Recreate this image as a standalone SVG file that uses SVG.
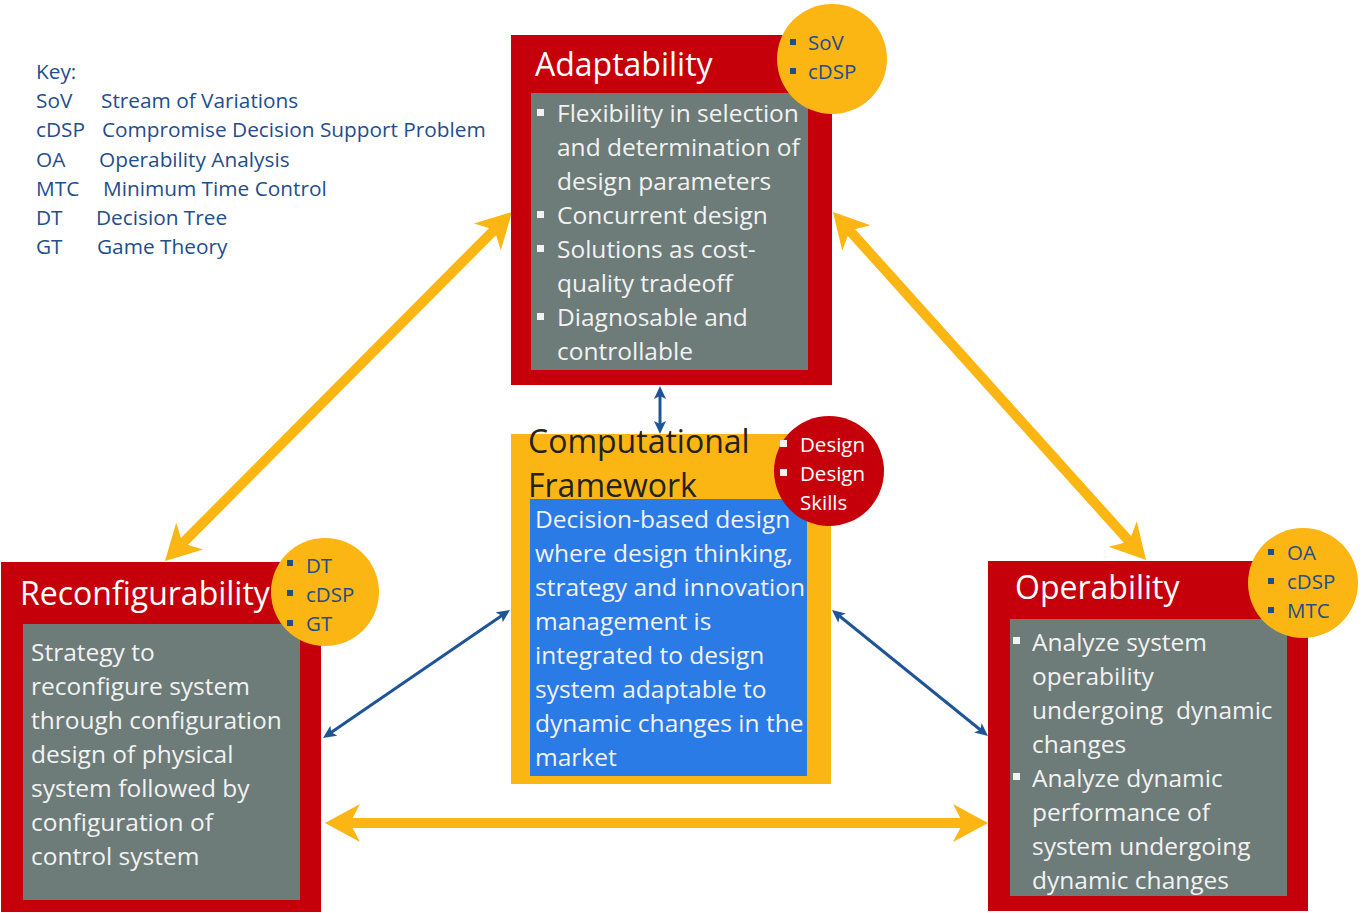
<svg xmlns="http://www.w3.org/2000/svg" width="1363" height="913" viewBox="0 0 1363 913">
<defs>
<style>
.red{fill:#C5000A}
.gray{fill:#6D7B79}
.yc{fill:#FBB614}
.t{font-family:"Open Sans","Noto Sans",sans-serif}
.title{font-size:32px;fill:#FFFFFF}
.body{font-size:24.5px;fill:#F2F2F2}
.key{font-size:20.8px;fill:#1F4E8C}
.ct{font-size:20.5px;fill:#1F4E8C}
.ctw{font-size:20.5px;fill:#FFFFFF}
.bd{fill:#1F4E8C}
.bw{fill:#F2F2F2}
.ya{stroke:#FBB614;stroke-width:10;fill:none}
.ba{stroke:#1F5597;stroke-width:3;fill:none}
</style>
<marker id="yh" markerUnits="userSpaceOnUse" markerWidth="42" markerHeight="42" refX="13" refY="21" orient="auto-start-reverse">
<path d="M38,21 L3,2 L13,21 L3,40 Z" fill="#FBB614"/>
</marker>
<marker id="bh" markerUnits="userSpaceOnUse" markerWidth="14" markerHeight="12" refX="5" refY="6" orient="auto-start-reverse">
<path d="M13,6 L0,0 L3,6 L0,12 Z" fill="#1F5597"/>
</marker>
</defs>
<rect width="1363" height="913" fill="#FFFFFF"/>

<g id="key" class="t key">
<text x="36" y="79">Key:</text>
<text x="36" y="108">SoV</text><text x="101" y="108">Stream of Variations</text>
<text x="36" y="137">cDSP</text><text x="102" y="137">Compromise Decision Support Problem</text>
<text x="36" y="167">OA</text><text x="99" y="167">Operability Analysis</text>
<text x="36" y="196">MTC</text><text x="103" y="196">Minimum Time Control</text>
<text x="36" y="225">DT</text><text x="96" y="225">Decision Tree</text>
<text x="36" y="254">GT</text><text x="97" y="254">Game Theory</text>
</g>

<g id="connectors">
<line class="ya" x1="182.6" y1="543.3" x2="494.4" y2="229.7" marker-start="url(#yh)" marker-end="url(#yh)"/>
<line class="ya" x1="849.7" y1="230.6" x2="1129.3" y2="541.4" marker-start="url(#yh)" marker-end="url(#yh)"/>
<line class="ya" x1="350" y1="823" x2="963" y2="823" marker-start="url(#yh)" marker-end="url(#yh)"/>
<line class="ba" x1="660" y1="394" x2="660" y2="426" marker-start="url(#bh)" marker-end="url(#bh)"/>
<line class="ba" x1="329.6" y1="733.5" x2="503.4" y2="614.5" marker-start="url(#bh)" marker-end="url(#bh)"/>
<line class="ba" x1="838.2" y1="615" x2="981.8" y2="731" marker-start="url(#bh)" marker-end="url(#bh)"/>
</g>

<g id="adaptability">
<rect class="red" x="511" y="35" width="321" height="350"/>
<rect class="gray" x="531" y="93" width="277" height="277"/>
<text class="t title" x="535" y="76">Adaptability</text>
<g class="bw">
<rect x="537" y="109" width="7" height="7"/>
<rect x="537" y="211" width="7" height="7"/>
<rect x="537" y="245" width="7" height="7"/>
<rect x="537" y="313" width="7" height="7"/>
</g>
<g class="t body">
<text x="557" y="122">Flexibility in selection</text>
<text x="557" y="156">and determination of</text>
<text x="557" y="190">design parameters</text>
<text x="557" y="224">Concurrent design</text>
<text x="557" y="258">Solutions as cost-</text>
<text x="557" y="292">quality tradeoff</text>
<text x="557" y="326">Diagnosable and</text>
<text x="557" y="360">controllable</text>
</g>
<circle class="yc" cx="832" cy="59" r="55"/>
<rect class="bd" x="790" y="39" width="6" height="6"/>
<rect class="bd" x="790" y="68" width="6" height="6"/>
<text class="t ct" x="808" y="50">SoV</text>
<text class="t ct" x="808" y="79">cDSP</text>
</g>

<g id="computational-framework">
<rect class="yc" x="511" y="434" width="320" height="350"/>
<text class="t" x="528" y="453" font-size="32" fill="#222222">Computational</text>
<text class="t" x="528" y="497" font-size="32" fill="#222222">Framework</text>
<rect x="530" y="499" width="277" height="277" fill="#2A7BE6"/>
<g class="t body" fill="#FFFFFF">
<text x="535" y="528">Decision-based design</text>
<text x="535" y="562">where design thinking,</text>
<text x="535" y="596">strategy and innovation</text>
<text x="535" y="630">management is</text>
<text x="535" y="664">integrated to design</text>
<text x="535" y="698">system adaptable to</text>
<text x="535" y="732">dynamic changes in the</text>
<text x="535" y="766">market</text>
</g>
<circle class="red" cx="829" cy="471" r="55"/>
<rect class="bw" x="780" y="440" width="7" height="7"/>
<rect class="bw" x="780" y="469" width="7" height="7"/>
<text class="t ctw" x="800" y="452">Design</text>
<text class="t ctw" x="800" y="481">Design</text>
<text class="t ctw" x="800" y="510">Skills</text>
</g>

<g id="reconfigurability">
<rect class="red" x="1" y="562" width="320" height="350"/>
<rect class="gray" x="23" y="624" width="277" height="276"/>
<text class="t title" x="20" y="605">Reconfigurability</text>
<g class="t body">
<text x="31" y="661">Strategy to</text>
<text x="31" y="695">reconfigure system</text>
<text x="31" y="729">through configuration</text>
<text x="31" y="763">design of physical</text>
<text x="31" y="797">system followed by</text>
<text x="31" y="831">configuration of</text>
<text x="31" y="865">control system</text>
</g>
<circle class="yc" cx="325" cy="592" r="54"/>
<rect class="bd" x="287" y="560" width="6" height="6"/>
<rect class="bd" x="287" y="590" width="6" height="6"/>
<rect class="bd" x="287" y="620" width="6" height="6"/>
<text class="t ct" x="306" y="573">DT</text>
<text class="t ct" x="306" y="602">cDSP</text>
<text class="t ct" x="306" y="631">GT</text>
</g>

<g id="operability">
<rect class="red" x="988" y="561" width="320" height="350"/>
<rect class="gray" x="1010" y="619" width="277" height="277"/>
<text class="t title" x="1015" y="599">Operability</text>
<rect class="bw" x="1013" y="637" width="7" height="7"/>
<rect class="bw" x="1013" y="773" width="7" height="7"/>
<g class="t body">
<text x="1032" y="651">Analyze system</text>
<text x="1032" y="685">operability</text>
<text x="1032" y="719" xml:space="preserve">undergoing  dynamic</text>
<text x="1032" y="753">changes</text>
<text x="1032" y="787">Analyze dynamic</text>
<text x="1032" y="821">performance of</text>
<text x="1032" y="855">system undergoing</text>
<text x="1032" y="889">dynamic changes</text>
</g>
<circle class="yc" cx="1303" cy="583" r="55"/>
<rect class="bd" x="1268" y="549" width="6" height="6"/>
<rect class="bd" x="1268" y="578" width="6" height="6"/>
<rect class="bd" x="1268" y="607" width="6" height="6"/>
<text class="t ct" x="1287" y="560">OA</text>
<text class="t ct" x="1287" y="589">cDSP</text>
<text class="t ct" x="1287" y="618">MTC</text>
</g>
</svg>
